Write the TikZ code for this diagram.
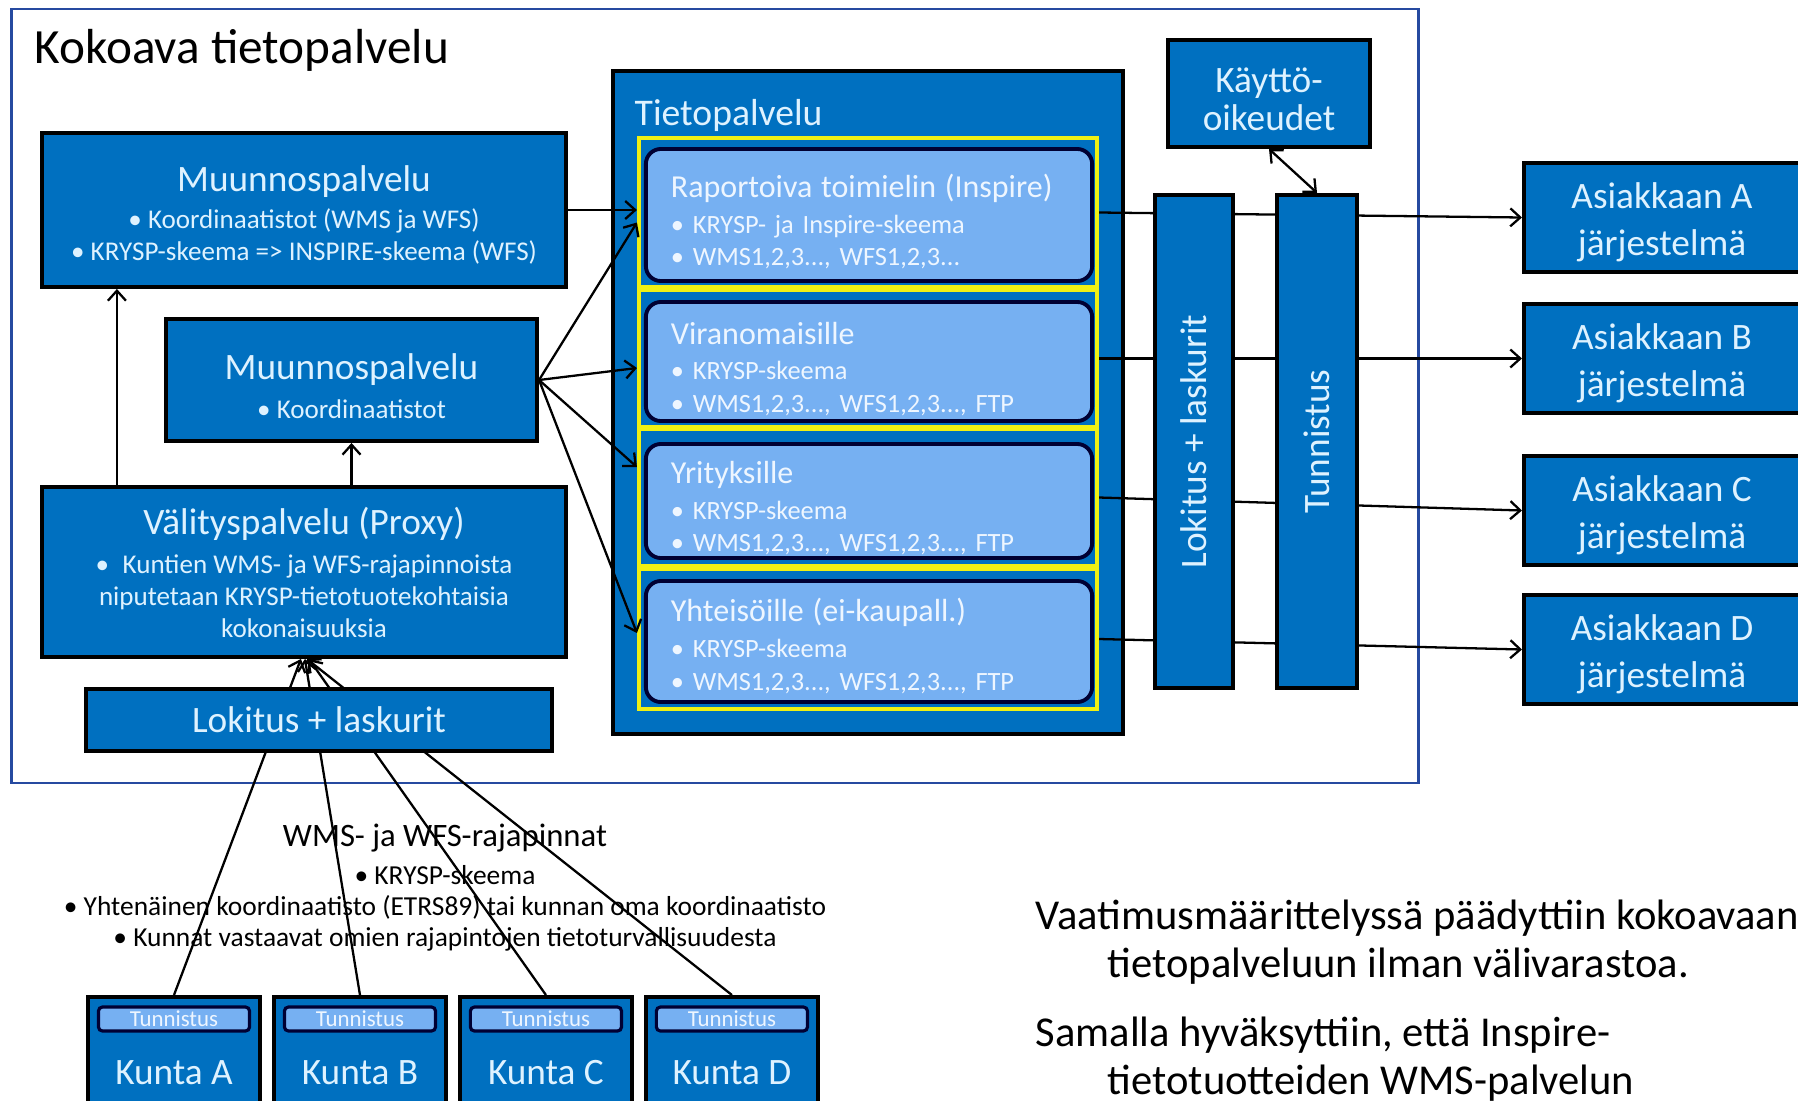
\documentclass[tikz,border=0pt]{standalone}
\usepackage{fontspec}
\setmainfont{Carlito}
\usepackage{xcolor}
\usetikzlibrary{positioning,calc,arrows.meta}

\definecolor{boxblue}{RGB}{0,112,192}
\definecolor{boxtext}{RGB}{222,242,255}
\definecolor{lightblue}{RGB}{118,176,242}
\definecolor{lighttext}{RGB}{238,246,255}
\definecolor{framecol}{RGB}{38,74,160}
\definecolor{yline}{RGB}{240,240,20}

\newcommand{\bigfont}{\fontsize{14pt}{16pt}\selectfont}
\newcommand{\headfont}{\fontsize{10.6pt}{10.8pt}\selectfont}
\newcommand{\bulfont}{\fontsize{7.7pt}{9.1pt}\selectfont}
\newcommand{\lhfont}{\fontsize{9.1pt}{10pt}\selectfont}
\newcommand{\lbfont}{\fontsize{7.5pt}{9.3pt}\selectfont}
\newcommand{\notefont}{\fontsize{12.1pt}{13.4pt}\selectfont}
\newcommand{\wfsfont}{\fontsize{7.8pt}{8.8pt}\selectfont}
\newcommand{\up}[1]{\rule{0pt}{#1}}

\tikzset{
  blk/.style={draw=black, line width=1.1pt, fill=boxblue, text=boxtext, align=center, inner sep=0pt},
  yframe/.style={draw=yline, line width=1.1pt, minimum width=4.58cm, inner sep=0pt},
  lbox/.style={draw=black!80!blue, line width=1.1pt, fill=lightblue, text=lighttext, rounded corners=0.15cm,
    text width=3.96cm, align=left, inner xsep=0.25cm, inner ysep=0pt, font=\lbfont},
  tbox/.style={draw=black!80!blue, line width=0.9pt, fill=lightblue, text=lighttext, rounded corners=0.04cm,
    minimum width=1.51cm, minimum height=0.24cm, inner sep=0pt, font=\fontsize{6.5pt}{7pt}\selectfont},
  conn/.style={line width=0.65pt, -{Straight Barb[length=0.1cm,width=0.18cm]}},
}

\begin{document}
\begin{tikzpicture}[x=0.01cm,y=-0.01cm]
\useasboundingbox (0,0) rectangle (1798,1100);
\clip (0,0) rectangle (1798,1100);
\fill[white] (0,0) rectangle (1798,1100);

\draw[framecol, line width=0.75pt] (11.5,9) rectangle (1418.5,783);
\node[anchor=west, inner sep=0pt, font=\bigfont] (title) at (34,50) {Kokoava tietopalvelu};

% vasen puoli
\node[blk, minimum width=5.24cm, minimum height=1.54cm, font=\bulfont] (muun1) at (304,210)
  {{\headfont\up{10.2pt}Muunnospalvelu}\\[1.4pt] • Koordinaatistot (WMS ja WFS)\\ • KRYSP-skeema => INSPIRE-skeema (WFS)};
\node[blk, minimum width=3.71cm, minimum height=1.22cm, font=\bulfont] (muun2) at (351.5,380)
  {{\headfont\up{10.8pt}Muunnospalvelu}\\[2pt] • Koordinaatistot};
\node[blk, minimum width=5.24cm, minimum height=1.70cm, font=\bulfont] (valit) at (304,572)
  {{\headfont Välityspalvelu (Proxy)}\\[2pt] •\enspace Kuntien WMS- ja WFS-rajapinnoista\\ niputetaan KRYSP-tietotuotekohtaisia\\ kokonaisuuksia};

\draw[conn] ($(valit.north west)+(77,0)$) coordinate (u1) -- (u1 |- muun1.south);
\draw[conn] (valit.north -| muun2.south) -- (muun2.south);

% kunnat
\node[blk, minimum width=1.72cm, minimum height=1.52cm, font=\headfont, anchor=north] (kA) at (174,995) {Kunta A};
\node[blk, minimum width=1.72cm, minimum height=1.52cm, font=\headfont, right=0.1cm of kA] (kB) {Kunta B};
\node[blk, minimum width=1.72cm, minimum height=1.52cm, font=\headfont, right=0.1cm of kB] (kC) {Kunta C};
\node[blk, minimum width=1.72cm, minimum height=1.52cm, font=\headfont, right=0.1cm of kC] (kD) {Kunta D};
\node[tbox] (tA) at ($(kA.north)+(0,24)$) {Tunnistus};
\node[tbox] (tB) at ($(kB.north)+(0,24)$) {Tunnistus};
\node[tbox] (tC) at ($(kC.north)+(0,24)$) {Tunnistus};
\node[tbox] (tD) at ($(kD.north)+(0,24)$) {Tunnistus};

\draw[conn] (kA.north) -- ($(valit.south west)+(261,0)$);
\draw[conn] (kB.north) -- ($(valit.south west)+(265,0)$);
\draw[conn] (kC.north) -- ($(valit.south west)+(269,0)$);
\draw[conn] (kD.north) -- ($(valit.south west)+(267,0)$);

\node[blk, minimum width=4.66cm, minimum height=0.62cm, font=\headfont] (lok1) at (319,720) {Lokitus + laskurit};

\node[align=center, inner sep=0pt, font=\wfsfont] (wfs) at (445,888)
  {{\fontsize{9.3pt}{10pt}\selectfont WMS- ja WFS-rajapinnat}\\[2pt] • KRYSP-skeema\\
   • Yhtenäinen koordinaatisto (ETRS89) tai kunnan oma koordinaatisto\\
   • Kunnat vastaavat omien rajapintojen tietoturvallisuudesta};

% tietopalvelu
\node[blk, minimum width=5.10cm, minimum height=6.63cm] (tieto) at (868,402.5) {};
\node[anchor=west, inner sep=0pt, text=boxtext, font=\fontsize{10.7pt}{12pt}\selectfont] (tlabel) at (634,115) {Tietopalvelu};

\node[yframe, minimum height=1.49cm] (f1) at (868,212.5) {};
\node[yframe, minimum height=1.37cm] (f2) at (868,358.5) {};
\node[yframe, minimum height=1.37cm] (f3) at (868,497.5) {};
\node[yframe, minimum height=1.40cm] (f4) at (868,639) {};

\node[lbox, minimum height=1.32cm] (l1) at (869,215)
  {{\lhfont\up{10.4pt}Raportoiva toimielin (Inspire)}\\[0.8pt] • KRYSP- ja Inspire-skeema\\ • WMS1,2,3..., WFS1,2,3...};
\node[lbox, minimum height=1.19cm] (l2) at (869,361.5)
  {{\lhfont\up{10.6pt}Viranomaisille}\\[0.8pt] • KRYSP-skeema\\ • WMS1,2,3..., WFS1,2,3..., FTP};
\node[lbox, minimum height=1.14cm] (l3) at (869,501)
  {{\lhfont\up{10.4pt}Yrityksille}\\[0.8pt] • KRYSP-skeema\\ • WMS1,2,3..., WFS1,2,3..., FTP};
\node[lbox, minimum height=1.21cm] (l4) at (869,641.5)
  {{\lhfont\up{9.2pt}Yhteisöille (ei-kaupall.)}\\[0.8pt] • KRYSP-skeema\\ • WMS1,2,3..., WFS1,2,3..., FTP};

\draw[conn] (muun1.east) -- (muun1.east -| f1.west);
\draw[conn] (muun2.east) -- ($(f1.west)+(0,10)$);
\draw[conn] (muun2.east) -- ($(f2.west)+(0,9.5)$);
\draw[conn] (muun2.east) -- ($(f3.west)+(0,-30.5)$);
\draw[conn] (muun2.east) -- ($(f4.west)+(0,-6)$);

% asiakkaat
\node[blk, minimum width=2.76cm, minimum height=1.09cm, font=\headfont] (cA) at (1662,217.5) {\up{10.2pt}Asiakkaan A\\[2.6pt]järjestelmä};
\node[blk, minimum width=2.76cm, minimum height=1.09cm, font=\headfont] (cB) at (1662,358.5) {\up{10.2pt}Asiakkaan B\\[2.6pt]järjestelmä};
\node[blk, minimum width=2.76cm, minimum height=1.09cm, font=\headfont] (cC) at (1662,510.5) {\up{10.2pt}Asiakkaan C\\[2.6pt]järjestelmä};
\node[blk, minimum width=2.76cm, minimum height=1.09cm, font=\headfont] (cD) at (1662,649.5) {\up{10.2pt}Asiakkaan D\\[2.6pt]järjestelmä};

\draw[conn] (f1.east) -- (cA.west);
\draw[conn] (f2.east) -- (cB.west);
\draw[conn] (f3.east) -- (cC.west);
\draw[conn] (f4.east) -- (cD.west);

\node[blk, rotate=90, minimum width=4.93cm, minimum height=0.78cm, font=\headfont] (lok2) at (1194,441.5) {Lokitus + laskurit};
\node[blk, rotate=90, minimum width=4.93cm, minimum height=0.80cm, font=\headfont] (tunn) at (1317,441.5) {Tunnistus};
\node[blk, minimum width=2.02cm, minimum height=1.07cm, font=\headfont] (kaytto) at (1269,93.5) {\up{10.2pt}Käyttö-\\oikeudet};
\draw[line width=0.65pt, {Straight Barb[length=0.1cm,width=0.18cm]}-{Straight Barb[length=0.1cm,width=0.18cm]}] (kaytto.south) -- (tunn.east);

% teksti oikealla
\node[anchor=base west, align=left, inner sep=0pt, font=\notefont] (note1) at (1035,977)
  {Vaatimusmäärittelyssä päädyttiin kokoavaan\\\hspace*{20.5pt}tietopalveluun ilman välivarastoa.};
\node[anchor=base west, align=left, inner sep=0pt, font=\notefont] (note2) at (1035,1094)
  {Samalla hyväksyttiin, että Inspire-\\\hspace*{20.5pt}tietotuotteiden WMS-palvelun};
\end{tikzpicture}
\end{document}
